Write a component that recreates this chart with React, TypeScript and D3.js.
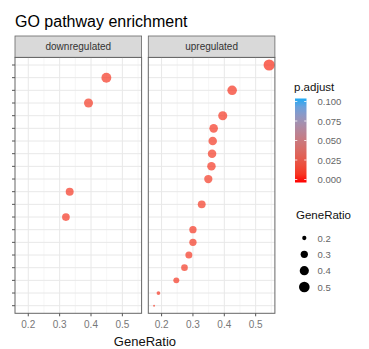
import React from "react";
import * as d3 from "d3";

// rows of the (unlabelled) y axis, top to bottom
const rows = d3.range(1, 21).map(String);

const upRows = ["1", "3", "5", "6", "7", "8", "9", "10", "12", "14", "15", "16", "17", "18", "19", "20"];
const upRatio = [0.543, 0.425, 0.395, 0.366, 0.363, 0.361, 0.359, 0.349, 0.328, 0.3, 0.3, 0.287, 0.273, 0.247, 0.19, 0.176];
const upPadj = [0.008, 0.011, 0.012, 0.012, 0.013, 0.013, 0.012, 0.013, 0.013, 0.012, 0.013, 0.012, 0.013, 0.012, 0.012, 0.013];

const downRows = ["2", "4", "11", "13"];
const downRatio = [0.449, 0.392, 0.332, 0.32];
const downPadj = [0.012, 0.013, 0.012, 0.012];

const xTicks = [0.2, 0.3, 0.4, 0.5];
const xMinor = [0.15, 0.25, 0.35, 0.45, 0.55];
const padjTicks = [0, 0.025, 0.05, 0.075, 0.1];
const sizeBreaks = [0.2, 0.3, 0.4, 0.5];

const panels = [
  { name: "downregulated", rows: downRows, ratio: downRatio, padj: downPadj },
  { name: "upregulated", rows: upRows, ratio: upRatio, padj: upPadj },
];

const font = "'Liberation Sans', Arial, sans-serif";

export default function App() {
  // layout
  const panelW = 126.6;
  const panelLefts = [15, 148.3];
  const stripTop = 36;
  const panelTop = 57.4;
  const panelBottom = 313.3;

  const allRatio = upRatio.concat(downRatio);
  const [lo, hi] = d3.extent(allRatio) as [number, number];
  const pad = (hi - lo) * 0.05;

  const y = d3.scalePoint<string>().domain(rows).range([panelTop, panelBottom]).padding(0.6);

  // ggplot area scale: size 1..6 on sqrt of rescaled value
  const sizeOf = (v: number) => 1 + 5 * Math.sqrt((v - lo) / (hi - lo));
  const rOf = (v: number) => (sizeOf(v) * 5.6) / 6;

  const color = d3
    .scaleLinear<string>()
    .domain([0, 0.1])
    .range(["#ff0000", "#1eaaf5"])
    .interpolate(d3.interpolateLab);

  // colour bar
  const barX = 295;
  const barW = 11.5;
  const barY = d3.scaleLinear().domain([0, 0.1]).range([179.5, 101.5]);
  const stops = d3.range(0, 1.0001, 0.1);

  // size legend rows
  const keyY = d3.scalePoint<number>().domain(sizeBreaks).range([238, 287]);

  return (
    <svg
      width={369}
      height={349}
      style={{ position: "absolute", left: 0, top: 0, background: "#fff" }}
      fontFamily={font}
    >
      <defs>
        <linearGradient id="padj" x1="0" y1="1" x2="0" y2="0">
          {stops.map((s) => (
            <stop key={s} offset={s} stopColor={color(s * 0.1)} />
          ))}
        </linearGradient>
      </defs>
      <rect width={369} height={349} fill="#fff" />

      <text x={15} y={27} fontSize={16} fill="#000">
        GO pathway enrichment
      </text>

      {panels.map((p, i) => {
        const left = panelLefts[i];
        const x = d3.scaleLinear().domain([lo - pad, hi + pad]).range([left, left + panelW]);
        return (
          <g key={p.name}>
            {/* strip */}
            <rect x={left} y={stripTop} width={panelW} height={panelTop - stripTop} fill="#d9d9d9" stroke="#666" strokeWidth={0.8} />
            <text x={left + panelW / 2} y={(stripTop + panelTop) / 2 + 3.6} textAnchor="middle" fontSize={10} fill="#333">
              {p.name}
            </text>
            {/* grid */}
            {xMinor
              .filter((v) => x(v) > left && x(v) < left + panelW)
              .map((v) => (
                <line key={"m" + v} x1={x(v)} x2={x(v)} y1={panelTop} y2={panelBottom} stroke="#f0f0f0" strokeWidth={0.6} />
              ))}
            {xTicks.map((v) => (
              <line key={"g" + v} x1={x(v)} x2={x(v)} y1={panelTop} y2={panelBottom} stroke="#e8e8e8" strokeWidth={1} />
            ))}
            {rows.map((r) => (
              <line key={"h" + r} x1={left} x2={left + panelW} y1={y(r)} y2={y(r)} stroke="#e8e8e8" strokeWidth={1} />
            ))}
            {/* points */}
            {p.rows.map((r, j) => (
              <circle key={r} cx={x(p.ratio[j])} cy={y(r)} r={rOf(p.ratio[j])} fill={color(p.padj[j])} fillOpacity={0.72} />
            ))}
            <rect x={left} y={panelTop} width={panelW} height={panelBottom - panelTop} fill="none" stroke="#666" strokeWidth={1} />
            {/* x axis */}
            {xTicks.map((v) => (
              <g key={"t" + v}>
                <line x1={x(v)} x2={x(v)} y1={panelBottom} y2={panelBottom + 3} stroke="#555" />
                <text x={x(v)} y={328} textAnchor="middle" fontSize={10} fill="#777">
                  {v.toFixed(1)}
                </text>
              </g>
            ))}
          </g>
        );
      })}

      {/* y axis ticks (labels are blank) */}
      {rows.map((r) => (
        <line key={r} x1={12} x2={15} y1={y(r)} y2={y(r)} stroke="#555" />
      ))}

      <text x={(panelLefts[0] + panelLefts[1] + panelW) / 2} y={346} textAnchor="middle" fontSize={13} fill="#111">
        GeneRatio
      </text>

      {/* colour legend */}
      <text x={barX - 1} y={91} fontSize={11.5} fill="#111">
        p.adjust
      </text>
      <rect x={barX} y={barY(0.1) - 3} width={barW} height={barY(0) - barY(0.1) + 6} fill="url(#padj)" />
      {padjTicks.map((v) => (
        <g key={v}>
          <line x1={barX} x2={barX + 2.3} y1={barY(v)} y2={barY(v)} stroke="#fff" strokeWidth={0.8} />
          <line x1={barX + barW - 2.3} x2={barX + barW} y1={barY(v)} y2={barY(v)} stroke="#fff" strokeWidth={0.8} />
          <text x={317.5} y={barY(v) + 3.5} fontSize={9.5} fill="#666">
            {v.toFixed(3)}
          </text>
        </g>
      ))}

      {/* size legend */}
      <text x={296} y={219} fontSize={11.5} fill="#111">
        GeneRatio
      </text>
      {sizeBreaks.map((v) => (
        <g key={v}>
          <circle cx={304.3} cy={keyY(v)} r={rOf(v)} fill="#000" />
          <text x={317.5} y={(keyY(v) as number) + 3.5} fontSize={9.5} fill="#666">
            {v.toFixed(1)}
          </text>
        </g>
      ))}
    </svg>
  );
}
